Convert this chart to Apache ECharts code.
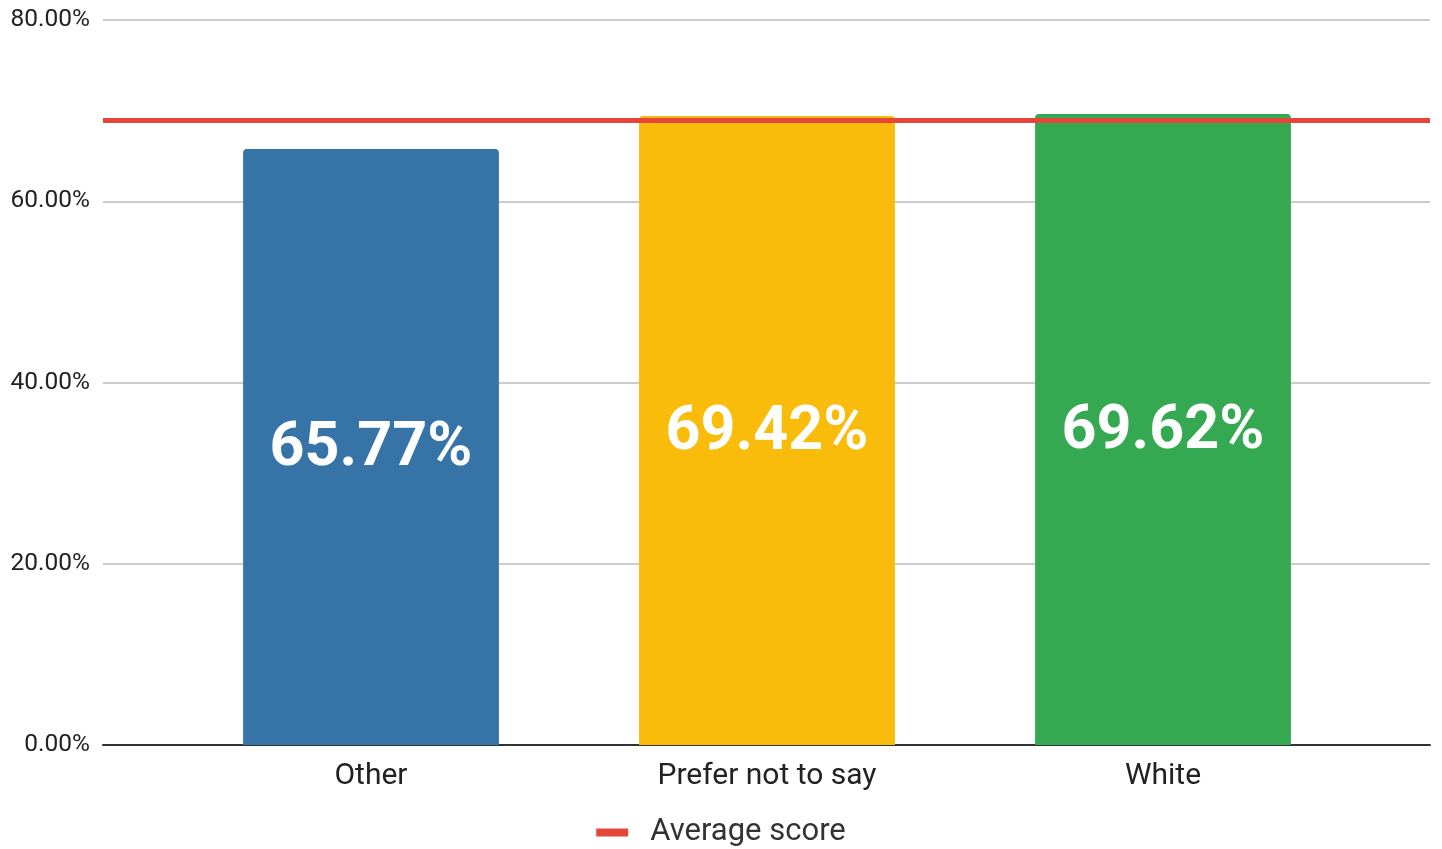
<!DOCTYPE html>
<html>
<head>
<meta charset="utf-8">
<script src="https://cdn.jsdelivr.net/npm/echarts@6/dist/echarts.min.js"></script>
<style>
  html, body { margin: 0; padding: 0; background: #fff; }
  #chart { width: 1442px; height: 849px; }
</style>
</head>
<body>
<div id="chart"></div>
<script>
// Score by group, with the overall average drawn as a reference line
const categories = ['Other', 'Prefer not to say', 'White'];
const scores = [65.77, 69.42, 69.62];
const barColors = ['#3674a8', '#f9bc0a', '#35a852'];
const averageScore = 68.9;
const yTicks = [0, 20, 40, 60, 80];

const yMin = yTicks[0];
const yMax = yTicks[yTicks.length - 1];

const chart = echarts.init(document.getElementById('chart'));

chart.setOption({
  animation: false,
  textStyle: { fontFamily: 'Roboto, sans-serif' },
  grid: [
    // full-width plot frame: gridlines, baseline, average line
    { left: 103, right: 12, top: 20, bottom: 104 },
    // inset band where the bars sit
    { left: 173, right: 81, top: 20, bottom: 104 }
  ],
  legend: {
    data: ['Average score'],
    top: 817,
    left: 'center',
    padding: 0,
    icon: 'rect',
    itemWidth: 32,
    itemHeight: 8,
    textStyle: {
      fontSize: 31,
      color: '#333',
      fontFamily: 'Roboto, sans-serif',
      padding: [0, 0, 0, 17]
    }
  },
  xAxis: [
    {
      type: 'value',
      gridIndex: 0,
      min: 0,
      max: 1,
      axisLine: { show: true, onZero: true, lineStyle: { color: '#333', width: 2 } },
      axisTick: { show: false },
      axisLabel: { show: false },
      splitLine: { show: false }
    },
    {
      type: 'category',
      gridIndex: 1,
      data: categories,
      axisTick: { show: false },
      axisLine: { show: false },
      axisLabel: { fontSize: 30, color: '#222', margin: 16 }
    }
  ],
  yAxis: [
    {
      type: 'value',
      gridIndex: 0,
      min: yMin,
      max: yMax,
      interval: 20,
      axisLine: { show: false },
      axisTick: { show: false },
      splitLine: { lineStyle: { color: '#cccccc', width: 2 } },
      axisLabel: {
        fontSize: 24.5,
        color: '#222',
        margin: 13,
        formatter: v => v.toFixed(2) + '%'
      }
    },
    {
      type: 'value',
      gridIndex: 1,
      min: yMin,
      max: yMax,
      interval: 20,
      show: false,
      splitLine: { show: false }
    }
  ],
  series: [
    {
      name: 'Score',
      type: 'bar',
      xAxisIndex: 1,
      yAxisIndex: 1,
      barWidth: '64.6%',
      data: scores.map((v, i) => ({
        value: v,
        itemStyle: { color: barColors[i], borderRadius: [4, 4, 0, 0] }
      })),
      label: {
        show: true,
        position: 'inside',
        color: '#fff',
        fontSize: 61,
        fontWeight: 'bold',
        fontFamily: 'Roboto, sans-serif',
        offset: [0, 3],
        formatter: p => p.value.toFixed(2) + '%'
      },
      z: 2
    },
    {
      name: 'Average score',
      type: 'line',
      xAxisIndex: 0,
      yAxisIndex: 0,
      data: [[0, averageScore], [1, averageScore]],
      symbol: 'none',
      color: '#e5463a',
      lineStyle: { color: '#e5463a', width: 5 },
      z: 5
    }
  ]
});
</script>
</body>
</html>
